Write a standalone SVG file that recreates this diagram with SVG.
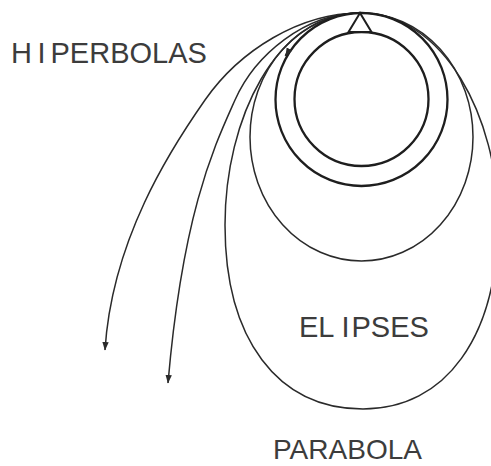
<svg xmlns="http://www.w3.org/2000/svg" width="491" height="466" viewBox="0 0 491 466">
<defs>
<style>
.orbit{fill:none;stroke:#2a2a2a;stroke-width:1.5}
.thick{stroke:#1e1e1e;stroke-width:2.3}
.label{font-family:"Liberation Sans",Arial,sans-serif;font-size:29px;fill:#3c3c3c}
</style>
<marker id="arrow" markerUnits="userSpaceOnUse" markerWidth="9" markerHeight="8" viewBox="0 0 9 8" refX="8" refY="4" orient="auto">
<path d="M0,0.8 L8.5,4 L0,7.2 Z" fill="#2a2a2a"/>
</marker>
</defs>
<rect width="491" height="466" fill="#ffffff"/>
<g id="orbits">
<path id="hiperbola-1" class="orbit" d="M360,13 C300,13 240,50 205,100 C170,150 112,240 105,350" marker-end="url(#arrow)"/>
<path id="hiperbola-2" class="orbit" d="M360,13 C305,13 255,55 235,100 C215,145 183,210 168,383" marker-end="url(#arrow)"/>
<path id="elipse-3" class="orbit" d="M360,13 C276,13 225,119 225,225 C225,339 277.4,409 363,409 C445.5,409 498,337 498,220 C498,118 444,13 360,13 Z"/>
<ellipse id="elipse-2" class="orbit" cx="361.5" cy="137" rx="111.5" ry="124"/>
<ellipse id="elipse-1" class="orbit thick" cx="361.5" cy="99.5" rx="86" ry="86.5"/>
<path id="elipse-1-arrow" class="orbit thick" d="M287.6,52.4 L285.6,56" marker-end="url(#arrow)"/>
</g>
<g id="earth"><circle class="orbit thick" cx="361.5" cy="99" r="67"/></g>
<g id="mountain"><polygon points="360,13 348.5,32 371.5,32" fill="#ffffff" stroke="#1e1e1e" stroke-width="2"/></g>
<g id="label-hiperbolas"><text class="label" y="62.5"><tspan x="11">H</tspan><tspan x="37.5">I</tspan><tspan x="50.5">PERBOLAS</tspan></text></g>
<g id="label-elipses"><text class="label" y="337"><tspan x="299">EL</tspan><tspan x="341.5">I</tspan><tspan x="351.5">PSES</tspan></text></g>
<g id="label-parabola"><text class="label" x="273" y="459" style="font-size:28px" textLength="149" lengthAdjust="spacingAndGlyphs">PARABOLA</text></g>
</svg>
